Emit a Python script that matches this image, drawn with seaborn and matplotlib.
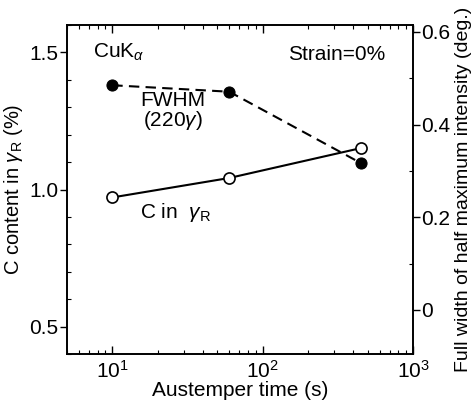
import matplotlib
matplotlib.use("Agg")
import matplotlib.pyplot as plt
import matplotlib.ticker as mticker
import seaborn as sns
import pandas as pd

# Austemper time and measured values
time_s = [10, 60, 450]
c_content = [0.971, 1.042, 1.151]   # C content in retained austenite (%)
fwhm_deg = [0.485, 0.471, 0.317]    # FWHM of (220) gamma peak (deg.)

sns.set_theme(style="ticks")
plt.rcParams["font.family"] = ["Liberation Sans", "DejaVu Sans"]
plt.rcParams["mathtext.fontset"] = "custom"
plt.rcParams["mathtext.rm"] = "Liberation Sans"
plt.rcParams["mathtext.it"] = "Liberation Sans:italic"
plt.rcParams["mathtext.default"] = "regular"
for key in ("text.color", "axes.labelcolor", "xtick.color", "ytick.color", "axes.edgecolor"):
    plt.rcParams[key] = "black"

df = pd.DataFrame({"time": time_s, "c": c_content, "fwhm": fwhm_deg})

fig = plt.figure(figsize=(4.76, 4.03), dpi=100)
ax = fig.add_axes([67 / 476, 49 / 403, 346 / 476, 329 / 403])
ax2 = ax.twinx()

sns.lineplot(data=df, x="time", y="c", ax=ax, color="black", lw=1.5,
             marker="o", markersize=8, markerfacecolor="white",
             markeredgecolor="black", markeredgewidth=1.2)
sns.lineplot(data=df, x="time", y="fwhm", ax=ax2, color="black", lw=1.5,
             linestyle=(0, (5, 3)), marker="o", markersize=8,
             markerfacecolor="black", markeredgecolor="black")

ax.set_xscale("log")
ax.set_xlim(5, 1000)
ax.set_ylim(0.4, 1.6)
ax2.set_ylim(-0.095, 0.615)

ax.yaxis.set_major_locator(mticker.FixedLocator([0.5, 1.0, 1.5]))
ax.yaxis.set_minor_locator(mticker.MultipleLocator(0.1))
ax.yaxis.set_major_formatter(mticker.FormatStrFormatter("%.1f"))
ax2.yaxis.set_major_locator(mticker.FixedLocator([0, 0.2, 0.4, 0.6]))
ax2.yaxis.set_minor_locator(mticker.MultipleLocator(0.1))
ax2.yaxis.set_major_formatter(mticker.FuncFormatter(lambda v, p: "0" if abs(v) < 1e-9 else f"{v:.1f}"))
ax.xaxis.set_major_locator(mticker.LogLocator(base=10, numticks=10))
ax.xaxis.set_minor_locator(mticker.LogLocator(base=10, subs=range(2, 10), numticks=10))
ax.xaxis.set_major_formatter(mticker.LogFormatterSciNotation())

fs = 15
ax.tick_params(axis="y", which="major", direction="out", length=5, width=1, labelsize=fs, pad=1)
ax.tick_params(axis="y", which="minor", direction="in", length=3, width=0.8)
ax.tick_params(axis="x", which="major", direction="in", length=6, width=1, labelsize=fs, top=True, pad=4)
ax.tick_params(axis="x", which="minor", direction="in", length=3, width=0.8, top=True)
ax2.tick_params(axis="y", which="major", direction="out", length=5, width=1, labelsize=fs, pad=1)
ax2.tick_params(axis="y", which="minor", direction="in", length=3, width=0.8)

for a in (ax, ax2):
    for s in a.spines.values():
        s.set_linewidth(1.2)
        s.set_color("black")

ax.set_xlabel("Austemper time (s)", fontsize=fs, labelpad=0)
ax.set_ylabel(r"C content in $\mathit{\gamma}_{\rm R}$ (%)", fontsize=14.5, labelpad=3)
ax2.set_ylabel("Full width of half maximum intensity (deg.)", fontsize=14, labelpad=3)

ax.text(0.075, 0.918, r"CuK$_{\mathit{\alpha}}$", transform=ax.transAxes, fontsize=fs, va="center")
ax.text(0.919, 0.909, "Strain=0%", transform=ax.transAxes, fontsize=fs, va="center", ha="right")
ax.text(0.306, 0.736, "FWHM\n" + r"(220$\mathit{\gamma}$)", transform=ax.transAxes, fontsize=fs,
        va="center", ha="center", linespacing=0.95)
ax.text(0.21, 0.43, r"C in  $\mathit{\gamma}_{\rm R}$", transform=ax.transAxes, fontsize=fs, va="center")

fig.savefig("out.png", dpi=100)
